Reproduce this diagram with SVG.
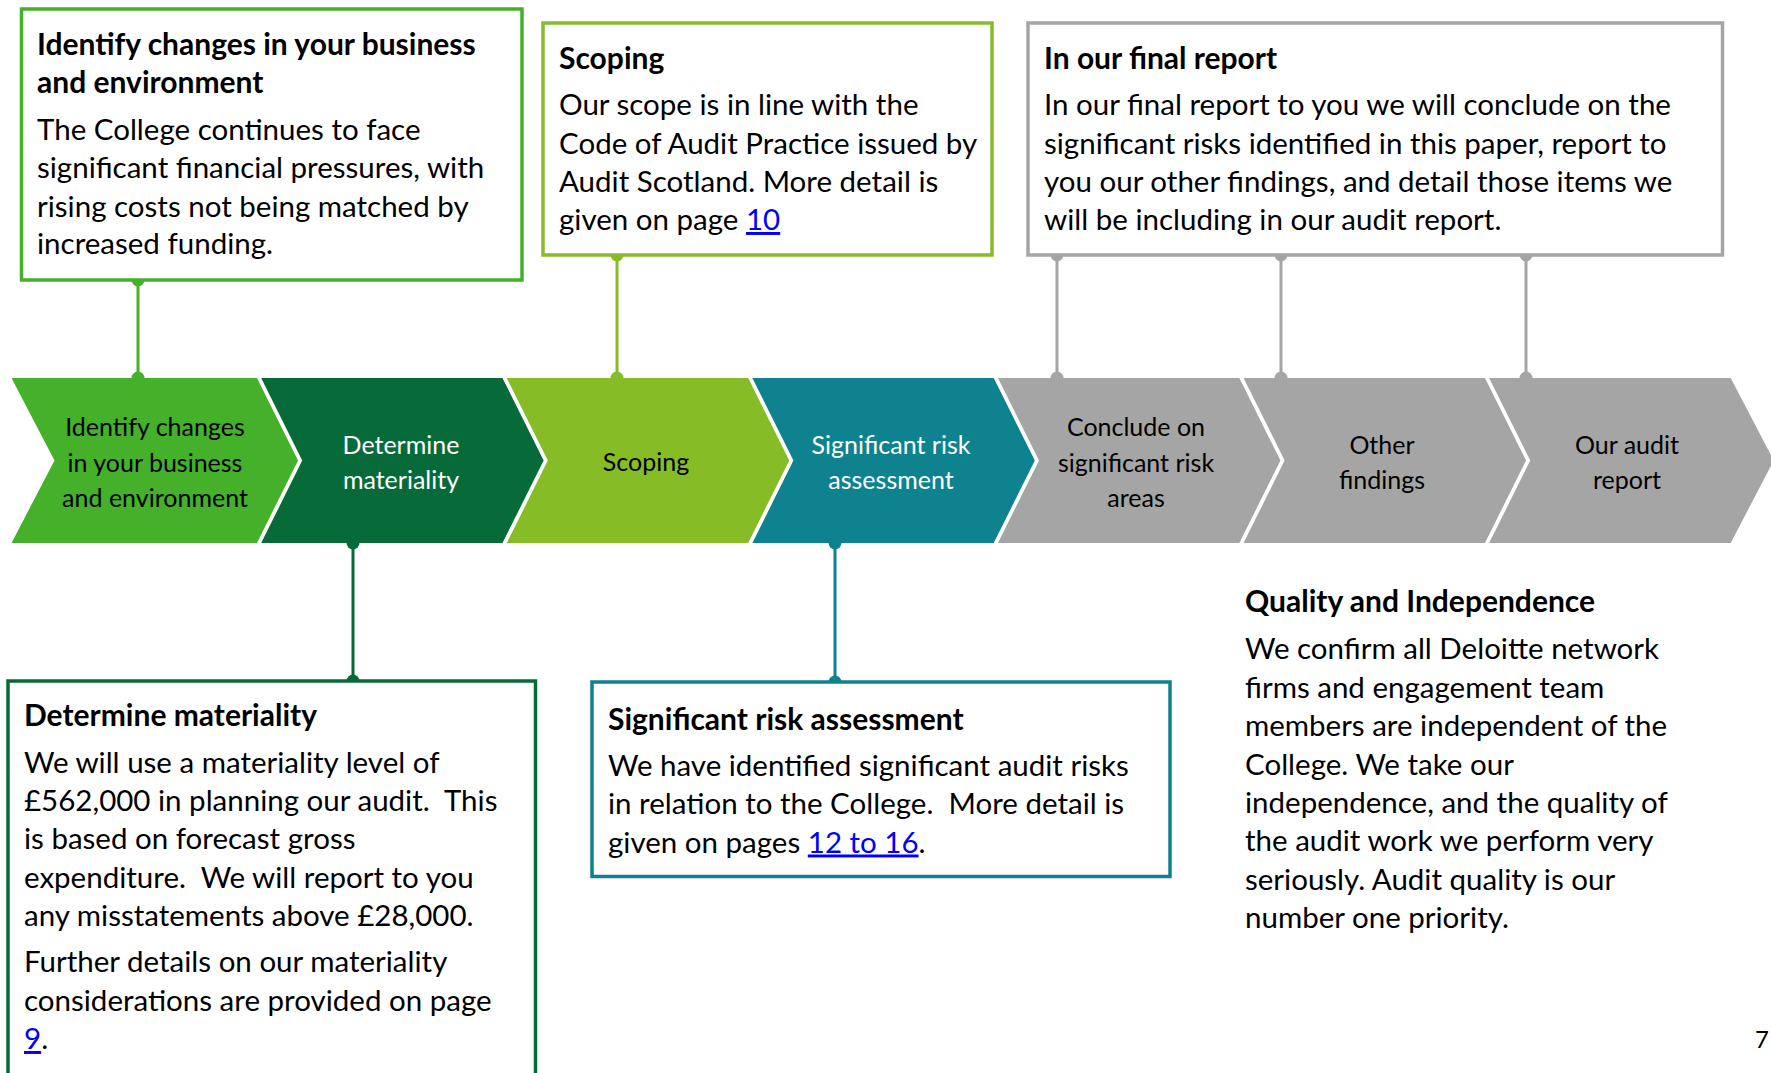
<svg xmlns="http://www.w3.org/2000/svg" width="1771" height="1073" viewBox="0 0 1771 1073">
  <style>
    text { font-family: "Lato", "Open Sans", "Liberation Sans", sans-serif; fill: #000; }
    .h { font-size: 30px; font-weight: bold; }
    .b { font-size: 29.5px; }
    .lbl { font-size: 25px; text-anchor: middle; }
    .w { fill: #fff; }
    .lnk { fill: #0000ff; text-decoration: underline; }
    .box { fill: #fff; stroke-width: 3.5; }
    .gap { fill: none; stroke: #fff; stroke-width: 3.8; stroke-linejoin: miter; }
    .conn line { stroke-width: 3; }
  </style>
  <defs>
    <!-- one chevron step: top edge width 245.6, point depth 43 -->
    <polygon id="chevShape" points="0,378 245.6,378 288.6,460.5 245.6,543 0,543 43,460.5"/>
    <!-- white separator drawn along the pointed edge of a step -->
    <polyline id="chevEdge" points="245.6,374 288.6,460.5 245.6,547"/>
  </defs>

  <!-- process steps -->
  <g id="step-identify">
    <use href="#chevShape" x="11.5" fill="#45b02a"/>
    <text class="lbl" x="155" y="436">Identify changes</text>
    <text class="lbl" x="155" y="471.5">in your business</text>
    <text class="lbl" x="155" y="507">and environment</text>
  </g>
  <g id="step-materiality">
    <use href="#chevShape" x="257.1" fill="#066b39"/>
    <text class="lbl w" x="401" y="454">Determine</text>
    <text class="lbl w" x="401" y="489">materiality</text>
  </g>
  <g id="step-scoping">
    <use href="#chevShape" x="502.7" fill="#86bc25"/>
    <text class="lbl" x="646" y="471">Scoping</text>
  </g>
  <g id="step-risk">
    <use href="#chevShape" x="748.3" fill="#0e828e"/>
    <text class="lbl w" x="891" y="454">Significant risk</text>
    <text class="lbl w" x="891" y="489">assessment</text>
  </g>
  <g id="step-conclude">
    <use href="#chevShape" x="993.9" fill="#a5a5a5"/>
    <text class="lbl" x="1136" y="436">Conclude on</text>
    <text class="lbl" x="1136" y="471.5">significant risk</text>
    <text class="lbl" x="1136" y="507">areas</text>
  </g>
  <g id="step-findings">
    <use href="#chevShape" x="1239.5" fill="#a5a5a5"/>
    <text class="lbl" x="1382" y="454">Other</text>
    <text class="lbl" x="1382" y="489">findings</text>
  </g>
  <g id="step-report">
    <use href="#chevShape" x="1485.1" fill="#a5a5a5"/>
    <text class="lbl" x="1627" y="454">Our audit</text>
    <text class="lbl" x="1627" y="489">report</text>
  </g>
  <!-- white gaps between neighbouring steps -->
  <g id="step-gaps">
    <use href="#chevEdge" x="11.5" class="gap"/>
    <use href="#chevEdge" x="257.1" class="gap"/>
    <use href="#chevEdge" x="502.7" class="gap"/>
    <use href="#chevEdge" x="748.3" class="gap"/>
    <use href="#chevEdge" x="993.9" class="gap"/>
    <use href="#chevEdge" x="1239.5" class="gap"/>
  </g>

  <!-- connectors between callouts and steps -->
  <g id="connectors" class="conn">
    <line x1="138" y1="280" x2="138" y2="378" stroke="#45b02a"/>
    <circle cx="138" cy="280" r="6.5" fill="#45b02a"/>
    <circle cx="138" cy="378" r="6.5" fill="#45b02a"/>

    <line x1="617" y1="255" x2="617" y2="378" stroke="#86bc25"/>
    <circle cx="617" cy="255" r="6.5" fill="#86bc25"/>
    <circle cx="617" cy="378" r="6.5" fill="#86bc25"/>

    <line x1="1057" y1="255" x2="1057" y2="378" stroke="#a5a5a5"/>
    <circle cx="1057" cy="255" r="6.5" fill="#a5a5a5"/>
    <circle cx="1057" cy="378" r="6.5" fill="#a5a5a5"/>
    <line x1="1281" y1="255" x2="1281" y2="378" stroke="#a5a5a5"/>
    <circle cx="1281" cy="255" r="6.5" fill="#a5a5a5"/>
    <circle cx="1281" cy="378" r="6.5" fill="#a5a5a5"/>
    <line x1="1526" y1="255" x2="1526" y2="378" stroke="#a5a5a5"/>
    <circle cx="1526" cy="255" r="6.5" fill="#a5a5a5"/>
    <circle cx="1526" cy="378" r="6.5" fill="#a5a5a5"/>

    <line x1="353" y1="543" x2="353" y2="681" stroke="#066b39"/>
    <circle cx="353" cy="543" r="6.5" fill="#066b39"/>
    <circle cx="353" cy="681" r="6.5" fill="#066b39"/>

    <line x1="835" y1="543" x2="835" y2="682" stroke="#0e828e"/>
    <circle cx="835" cy="543" r="6.5" fill="#0e828e"/>
    <circle cx="835" cy="682" r="6.5" fill="#0e828e"/>
  </g>

  <!-- callout: business and environment -->
  <g id="note-identify">
    <rect class="box" x="21.5" y="9" width="500.5" height="271" stroke="#45b02a"/>
    <text class="h" x="37" y="55">Identify changes in your business</text>
    <text class="h" x="37" y="93">and environment</text>
    <text class="b" x="37" y="140">The College continues to face</text>
    <text class="b" x="37" y="178">significant financial pressures, with</text>
    <text class="b" x="37" y="217">rising costs not being matched by</text>
    <text class="b" x="37" y="254">increased funding.</text>
  </g>

  <!-- callout: scoping -->
  <g id="note-scoping">
    <rect class="box" x="543" y="23" width="449" height="232" stroke="#86bc25"/>
    <text class="h" x="559" y="69">Scoping</text>
    <text class="b" x="559" y="115">Our scope is in line with the</text>
    <text class="b" x="559" y="153.5">Code of Audit Practice issued by</text>
    <text class="b" x="559" y="192">Audit Scotland. More detail is</text>
    <text class="b" x="559" y="230">given on page <tspan class="lnk">10</tspan></text>
  </g>

  <!-- callout: final report -->
  <g id="note-final">
    <rect class="box" x="1028" y="23" width="694.5" height="232" stroke="#a5a5a5"/>
    <text class="h" x="1044" y="69">In our final report</text>
    <text class="b" x="1044" y="115">In our final report to you we will conclude on the</text>
    <text class="b" x="1044" y="153.5">significant risks identified in this paper, report to</text>
    <text class="b" x="1044" y="192">you our other findings, and detail those items we</text>
    <text class="b" x="1044" y="230">will be including in our audit report.</text>
  </g>

  <!-- callout: materiality (runs off the bottom edge) -->
  <g id="note-materiality">
    <rect class="box" x="8" y="681" width="527.5" height="420" stroke="#066b39"/>
    <text class="h" x="24" y="726">Determine materiality</text>
    <text class="b" x="24" y="772.5">We will use a materiality level of</text>
    <text class="b" x="24" y="811">£562,000 in planning our audit.&#160; This</text>
    <text class="b" x="24" y="849">is based on forecast gross</text>
    <text class="b" x="24" y="887.5">expenditure.&#160; We will report to you</text>
    <text class="b" x="24" y="926">any misstatements above £28,000.</text>
    <text class="b" x="24" y="972">Further details on our materiality</text>
    <text class="b" x="24" y="1011">considerations are provided on page</text>
    <text class="b" x="24" y="1049"><tspan class="lnk">9</tspan>.</text>
  </g>

  <!-- callout: significant risks -->
  <g id="note-risk">
    <rect class="box" x="592" y="682" width="578" height="194.5" stroke="#0e828e"/>
    <text class="h" x="608" y="729.5">Significant risk assessment</text>
    <text class="b" x="608" y="776">We have identified significant audit risks</text>
    <text class="b" x="608" y="814">in relation to the College.&#160; More detail is</text>
    <text class="b" x="608" y="852.5">given on pages <tspan class="lnk">12 to 16</tspan>.</text>
  </g>

  <!-- free text: quality and independence -->
  <g id="note-quality">
    <text class="h" x="1245" y="612">Quality and Independence</text>
    <text class="b" x="1245" y="659">We confirm all Deloitte network</text>
    <text class="b" x="1245" y="697.5">firms and engagement team</text>
    <text class="b" x="1245" y="735.5">members are independent of the</text>
    <text class="b" x="1245" y="774.5">College. We take our</text>
    <text class="b" x="1245" y="812.5">independence, and the quality of</text>
    <text class="b" x="1245" y="851">the audit work we perform very</text>
    <text class="b" x="1245" y="889.5">seriously. Audit quality is our</text>
    <text class="b" x="1245" y="927.5">number one priority.</text>
  </g>

  <text id="page-number" x="1769" y="1048" style="font-size:24px; text-anchor:end">7</text>
</svg>
